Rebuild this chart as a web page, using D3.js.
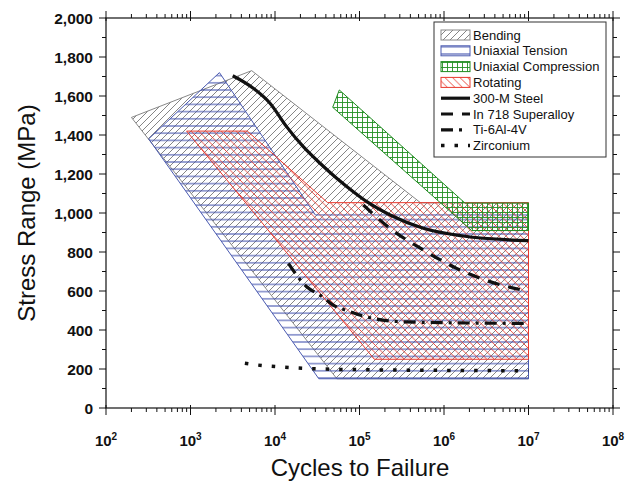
<!doctype html>
<html lang="en">
<head>
  <meta charset="utf-8">
  <title>Stress range vs cycles to failure</title>
  <style>
    body { margin: 0; background: #fff; }
    svg { font-family: "Liberation Sans", Arial, sans-serif; }
    .tick-label { font-weight: bold; fill: #111; }
    .frame { fill: none; stroke: #111; stroke-width: 1.2; }
    .tick { stroke: #111; stroke-width: 1; }
  </style>
</head>
<body>
<script src="https://cdnjs.cloudflare.com/ajax/libs/d3/7.8.5/d3.min.js"></script>
<script>

// regions: [cycles, stress MPa]
var bending = [[200,1490],[5300,1730],[5.3e5,1052],[1e7,1052],[1e7,150],[5.4e4,150]];
var tension = [[2200,1720],[3.0e4,990],[1e7,990],[1e7,150],[3.3e4,150],[320,1380]];
var compression = [[5.77e4,1631],[1.77e6,1051],[1e7,1051],[1e7,910],[2.13e6,910],[4.82e4,1542]];
var rotating = [[900,1420],[4700,1420],[4.2e4,1053],[1e7,1053],[1e7,250],[1.5e5,250]];

// material curves
var steel300M = [[3160,1704],[5530,1640],[8730,1563],[13700,1443],[21600,1340],[34100,1255],[53700,1178],
  [84500,1109],[1.22e5,1058],[2.3e5,990],[5.7e5,922],[1.69e6,882],[1e7,858]];
var in718 = [[1.11e5,1041],[2.3e5,921],[5.7e5,810],[1.41e6,716],[3.5e6,648],[9e6,602]];
var ti64 = [[14400,742],[23700,622],[34100,579],[48900,528],[77300,494],[1.1e5,472],[3e5,443],[1.2e6,437],[1e7,434]];
var zirconium = [[4400,229],[6300,220],[13100,209],[27200,202],[58700,198],[1e7,191]];

var areaNames = ["Bending", "Uniaxial Tension", "Uniaxial Compression", "Rotating"];
var lineNames = ["300-M Steel", "In 718 Superalloy", "Ti-6Al-4V", "Zirconium"];
var yTicks = d3.range(0, 2001, 200);
var xDecades = [2, 3, 4, 5, 6, 7, 8];

var W = 625, H = 485;
var svg = d3.select("body").append("svg").attr("width", W).attr("height", H);

var x = d3.scaleLog().domain([1e2, 1e8]).range([106, 613]);
var y = d3.scaleLinear().domain([0, 2000]).range([408, 18]);

// hatch patterns
var defs = svg.append("defs");
function pattern(id, w, h, d, color, sw) {
  var p = defs.append("pattern").attr("id", id)
    .attr("patternUnits", "userSpaceOnUse").attr("width", w).attr("height", h);
  p.append("path").attr("d", d).attr("stroke", color).attr("stroke-width", sw).attr("fill", "none");
}
pattern("hBend", 7, 7, "M-1,1 l2,-2 M0,7 l7,-7 M6,8 l2,-2", "#777", 0.9);
pattern("hTens", 8, 7.2, "M0,3.6 h8", "#3a4aaa", 1);
pattern("hComp", 5, 5, "M0,2.5 h5 M2.5,0 v5", "#239023", 0.9);
pattern("hRot", 7.5, 7.5, "M0,0 l7.5,7.5 M-1,6.5 l2,2 M6.5,-1 l2,2", "#e8382c", 0.9);

var areaStyle = [
  {data: bending, fill: "url(#hBend)", stroke: "#888"},
  {data: tension, fill: "url(#hTens)", stroke: "#4a5ab0"},
  {data: rotating, fill: "url(#hRot)", stroke: "#e8382c"},
  {data: compression, fill: "url(#hComp)", stroke: "#1f8a1f"}
];

var poly = d3.line().x(function(d){ return x(d[0]); }).y(function(d){ return y(d[1]); });

svg.selectAll("path.region").data(areaStyle).enter().append("path")
  .attr("class", "region")
  .attr("d", function(d){ return poly(d.data) + "Z"; })
  .attr("fill", function(d){ return d.fill; })
  .attr("stroke", function(d){ return d.stroke; })
  .attr("stroke-width", 1);

var curve = d3.line().curve(d3.curveMonotoneX)
  .x(function(d){ return x(d[0]); }).y(function(d){ return y(d[1]); });

var lineStyle = [
  {data: steel300M, dash: null, w: 3.2, len: 29},
  {data: in718, dash: "12,9", w: 3.2, len: 29},
  {data: ti64, dash: "12,6,3,6", w: 3.2, len: 22},
  {data: zirconium, dash: "3.5,10", w: 3.5, len: 29}
];

svg.selectAll("path.curve").data(lineStyle).enter().append("path")
  .attr("class", "curve")
  .attr("d", function(d){ return curve(d.data); })
  .attr("fill", "none")
  .attr("stroke", "#111")
  .attr("stroke-width", function(d){ return d.w; })
  .attr("stroke-dasharray", function(d){ return d.dash; });

// frame
svg.append("rect").attr("class", "frame")
  .attr("x", x.range()[0]).attr("y", y.range()[1])
  .attr("width", x.range()[1] - x.range()[0]).attr("height", y.range()[0] - y.range()[1]);

var x0 = x.range()[0], x1 = x.range()[1], y0 = y.range()[0], y1 = y.range()[1];

// y ticks (left out, right mirrored)
d3.range(0, 2001, 100).forEach(function(v){
  var len = v % 200 === 0 ? 7 : 4;
  svg.append("line").attr("class", "tick").attr("x1", x0 - len).attr("x2", x0).attr("y1", y(v)).attr("y2", y(v));
  svg.append("line").attr("class", "tick").attr("x1", x1).attr("x2", x1 + len).attr("y1", y(v)).attr("y2", y(v));
});
svg.selectAll("text.ylab").data(yTicks).enter().append("text")
  .attr("class", "tick-label")
  .attr("x", x0 - 13).attr("y", function(d){ return y(d); })
  .attr("dy", "0.36em")
  .attr("text-anchor", "end")
  .attr("font-size", 15.5)
  .text(d3.format(","));

// x ticks
xDecades.forEach(function(e, i){
  var base = Math.pow(10, e);
  var px = x(base);
  svg.append("line").attr("class", "tick").attr("x1", px).attr("x2", px).attr("y1", y0 - 3).attr("y2", y0 + 7);
  svg.append("line").attr("class", "tick").attr("x1", px).attr("x2", px).attr("y1", y1 - 7).attr("y2", y1 + 3);
  if (i < xDecades.length - 1) {
    for (var m = 2; m <= 9; m++) {
      var pm = x(base * m);
      svg.append("line").attr("class", "tick").attr("x1", pm).attr("x2", pm).attr("y1", y0).attr("y2", y0 + 4);
      svg.append("line").attr("class", "tick").attr("x1", pm).attr("x2", pm).attr("y1", y1 - 4).attr("y2", y1);
    }
  }
});
var xl = svg.selectAll("text.xlab").data(xDecades).enter().append("text")
  .attr("class", "tick-label")
  .attr("x", function(d){ return x(Math.pow(10, d)); })
  .attr("y", 446)
  .attr("text-anchor", "middle")
  .attr("font-size", 15);
xl.append("tspan").text("10");
xl.append("tspan").attr("dy", -6).attr("font-size", 10).text(function(d){ return d; });

// axis titles
svg.append("text").attr("x", 360).attr("y", 476).attr("text-anchor", "middle")
  .attr("font-size", 24).attr("fill", "#111").text("Cycles to Failure");
svg.append("text").attr("transform", "translate(35,213) rotate(-90)").attr("text-anchor", "middle")
  .attr("font-size", 24).attr("fill", "#111").text("Stress Range (MPa)");

// legend
var lg = svg.append("g");
lg.append("rect").attr("x", 434).attr("y", 22).attr("width", 172).attr("height", 135)
  .attr("fill", "#fff").attr("stroke", "#333").attr("stroke-width", 1);
var rowY = function(i){ return 35 + i * 15.8; };
var sx = 441, sw = 29;
// legend order: bending, tension, compression, rotating
var legAreas = [areaStyle[0], areaStyle[1], areaStyle[3], areaStyle[2]];
legAreas.forEach(function(s, i){
  lg.append("rect").attr("x", sx).attr("y", rowY(i) - 5).attr("width", sw).attr("height", 10)
    .attr("fill", s.fill).attr("stroke", s.stroke).attr("stroke-width", 1);
});
lineStyle.forEach(function(s, i){
  lg.append("line").attr("x1", sx).attr("x2", sx + s.len).attr("y1", rowY(i + 4)).attr("y2", rowY(i + 4))
    .attr("stroke", "#111").attr("stroke-width", s.w).attr("stroke-dasharray", s.dash);
});
lg.selectAll("text").data(areaNames.concat(lineNames)).enter().append("text")
  .attr("x", 473).attr("y", function(d, i){ return rowY(i); })
  .attr("dy", "0.35em").attr("font-size", 13).attr("fill", "#111")
  .text(function(d){ return d; });

</script>
</body>
</html>
